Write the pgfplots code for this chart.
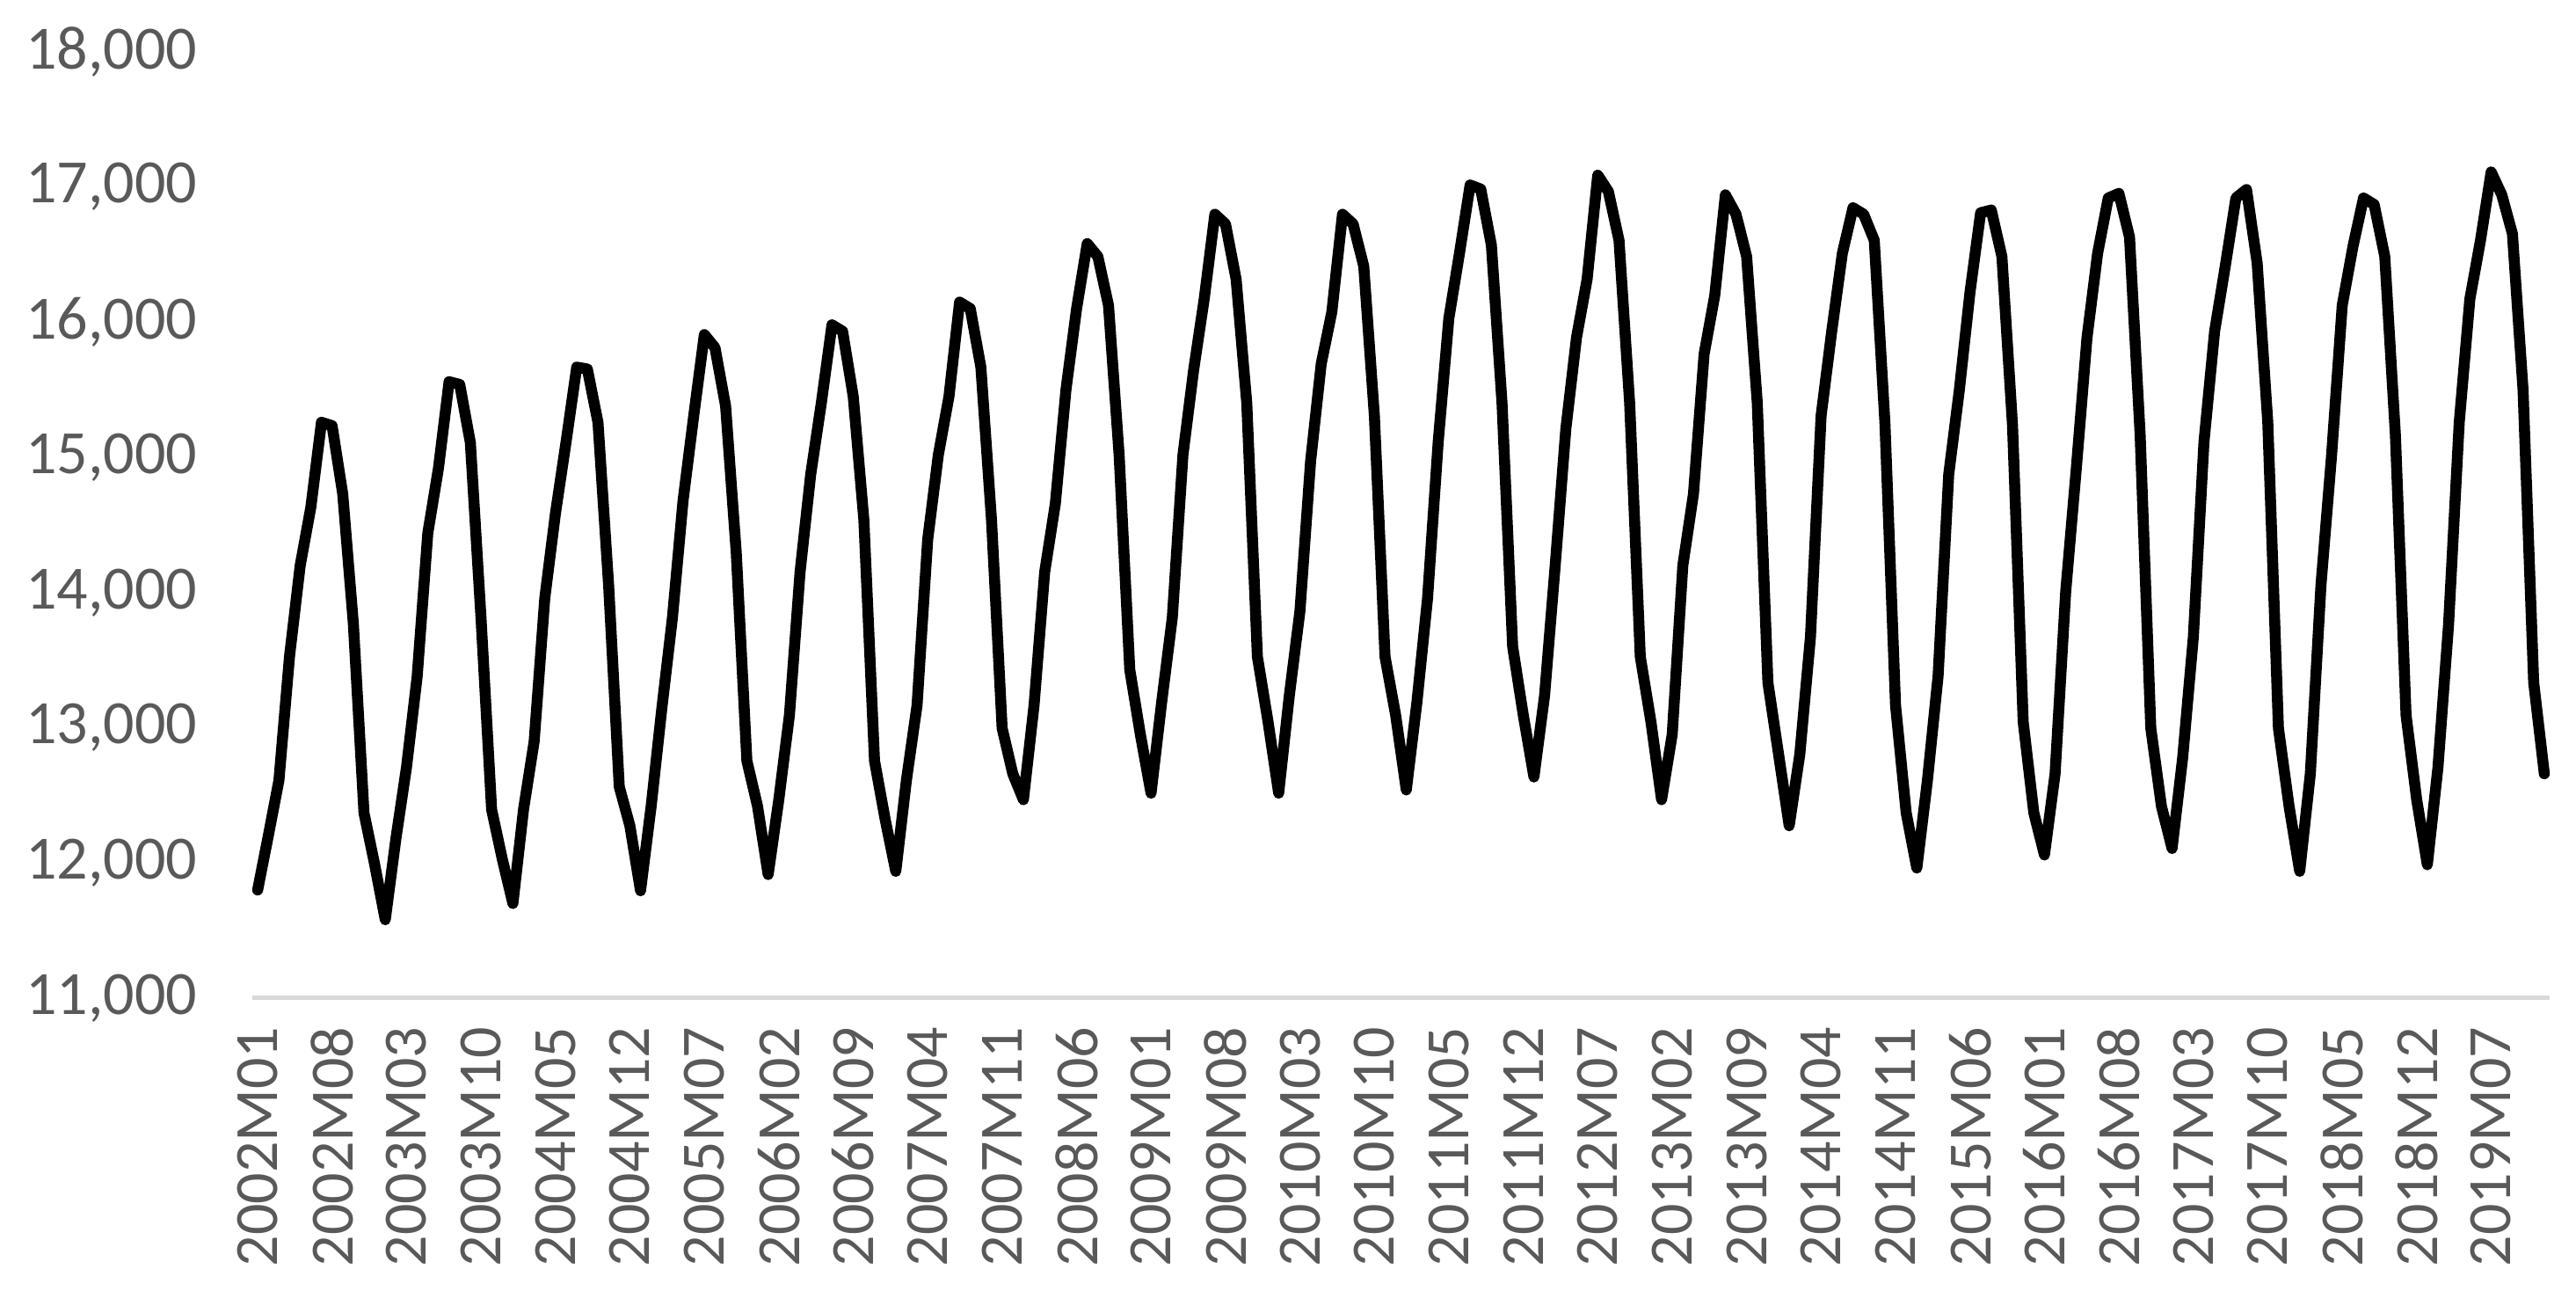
\documentclass[border=0pt]{standalone}
\usepackage{fontspec}
\setmainfont{Carlito}
\usepackage{pgfplots}
\usepackage{pgfplotstable}
\pgfplotsset{compat=1.18}
\definecolor{tickgray}{HTML}{595959}
\definecolor{axisgray}{HTML}{D9D9D9}

% monthly values, 2002M01 = 0 ... 2019M12 = 215
\pgfplotstableread{
m v
0 11800
1 12200
2 12610
3 13530
4 14200
5 14630
6 15260
7 15235
8 14730
9 13770
10 12370
11 11990
12 11580
13 12180
14 12710
15 13380
16 14440
17 14920
18 15560
19 15540
20 15110
21 13815
22 12395
23 12030
24 11700
25 12396
26 12900
27 13960
28 14585
29 15115
30 15668
31 15654
32 15259
33 14056
34 12564
35 12275
36 11794
37 12420
38 13141
39 13815
40 14681
41 15307
42 15909
43 15812
44 15380
45 14296
46 12756
47 12420
48 11914
49 12468
50 13093
51 14152
52 14874
53 15403
54 15981
55 15933
56 15451
57 14537
58 12756
59 12323
60 11938
61 12612
62 13166
63 14392
64 15018
65 15451
66 16149
67 16101
68 15668
69 14537
70 12997
71 12660
72 12468
73 13166
74 14152
75 14657
76 15500
77 16101
78 16582
79 16486
80 16125
81 15018
82 13430
83 12949
84 12516
85 13190
86 13815
87 15018
88 15644
89 16173
90 16799
91 16727
92 16318
93 15403
94 13526
95 13045
96 12516
97 13238
98 13863
99 14970
100 15692
101 16077
102 16799
103 16727
104 16414
105 15307
106 13526
107 13093
108 12540
109 13190
110 13960
111 15115
112 16029
113 16510
114 17015
115 16985
116 16570
117 15403
118 13600
119 13093
120 12636
121 13238
122 14200
123 15211
124 15885
125 16318
126 17088
127 16967
128 16606
129 15403
130 13526
131 13045
132 12468
133 12949
134 14200
135 14730
136 15764
137 16197
138 16943
139 16799
140 16486
141 15403
142 13334
143 12805
144 12275
145 12805
146 13671
147 15307
148 15933
149 16510
150 16847
151 16799
152 16606
153 15259
154 13166
155 12372
156 11962
157 12612
158 13382
159 14874
160 15500
161 16222
162 16810
163 16830
164 16486
165 15235
166 13045
167 12372
168 12059
169 12660
170 14008
171 14922
172 15885
173 16510
174 16919
175 16953
176 16630
177 15163
178 12997
179 12420
180 12107
181 12781
182 13671
183 15115
184 15933
185 16414
186 16919
187 16982
188 16438
189 15259
190 12997
191 12420
192 11938
193 12660
194 14056
195 15018
196 16125
197 16558
198 16919
199 16871
200 16486
201 15163
202 13093
203 12468
204 11987
205 12708
206 13767
207 15259
208 16173
209 16606
210 17112
211 16943
212 16655
213 15500
214 13334
215 12660
}\series

\begin{document}
\begin{tikzpicture}
\begin{axis}[
  name=ax,
  scale only axis,
  width=522.6pt, height=215.2pt,
  xmin=-0.5, xmax=215.5,
  ymin=11000, ymax=18000,
  enlargelimits=false,
  ytick={11000,12000,...,18000},
  scaled y ticks=false,
  /pgf/number format/1000 sep={,},
  /pgf/number format/assume math mode=true,
  xtick={0,7,...,210},
  xticklabels={2002M01,2002M08,2003M03,2003M10,2004M05,2004M12,2005M07,2006M02,
    2006M09,2007M04,2007M11,2008M06,2009M01,2009M08,2010M03,2010M10,2011M05,
    2011M12,2012M07,2013M02,2013M09,2014M04,2014M11,2015M06,2016M01,2016M08,
    2017M03,2017M10,2018M05,2018M12,2019M07},
  major tick length=0pt,
  axis x line*=bottom,
  axis y line*=left,
  x axis line style={draw=axisgray, line width=1pt},
  y axis line style={draw=none},
  tick label style={font=\fontsize{14}{16}\selectfont, text=tickgray},
  % rotated frame: negative xshift moves the labels down
  xticklabel style={rotate=90, anchor=east, xshift=-3pt},
  yticklabel style={xshift=-9pt},
  clip=false,
]
\addplot[black, line width=2.5pt, line join=round, line cap=round, mark=none]
  table[x=m, y=v] {\series};
\end{axis}
\pgfresetboundingbox
\useasboundingbox ([xshift=-57.4pt,yshift=-66.6pt]ax.south west)
  rectangle ([xshift=6pt,yshift=11.8pt]ax.north east);
\end{tikzpicture}
\end{document}
